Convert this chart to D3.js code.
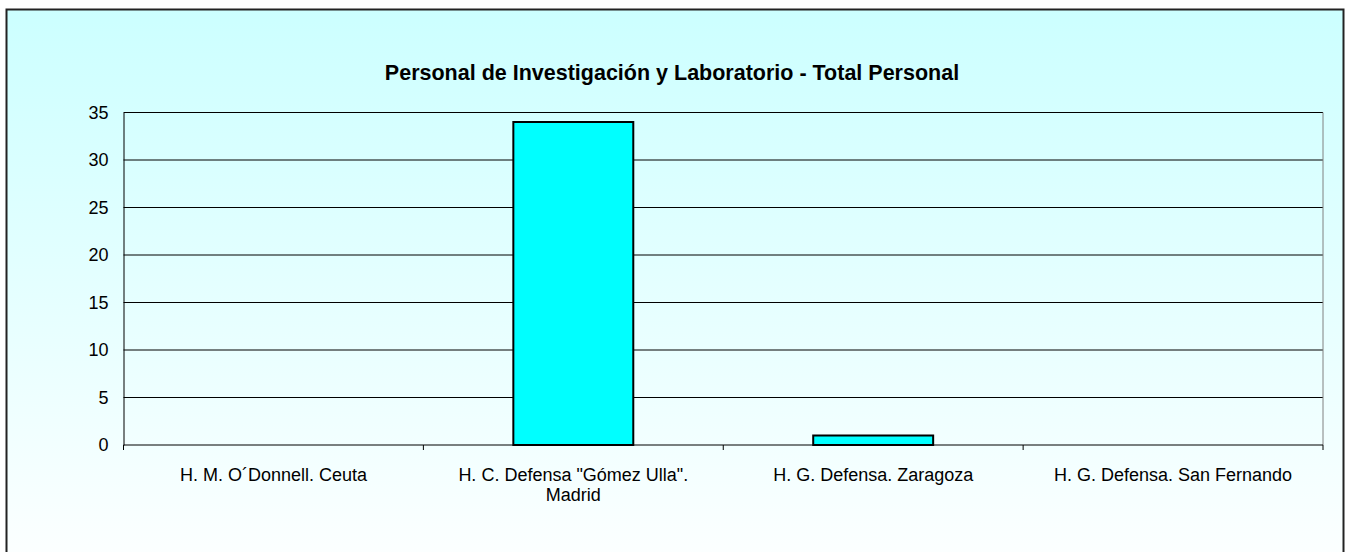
<!DOCTYPE html>
<html>
<head>
<meta charset="utf-8">
<script src="https://cdn.jsdelivr.net/npm/d3@7"></script>
<style>
  html, body { margin: 0; padding: 0; background: #fff; }
  svg { display: block; font-family: Arial, "Liberation Sans", sans-serif; }
</style>
</head>
<body>
<div id="chart"></div>
<script>
const categories = [
  ["H. M. O´Donnell. Ceuta"],
  ["H. C. Defensa \"Gómez Ulla\".", "Madrid"],
  ["H. G. Defensa. Zaragoza"],
  ["H. G. Defensa. San Fernando"]
];
const values = [0, 34, 1, 0];
const yTicks = [0, 5, 10, 15, 20, 25, 30, 35];
const title = "Personal de Investigación y Laboratorio - Total Personal";

const width = 1350, height = 552;
const margin = { top: 112.5, right: 27, bottom: 107, left: 123.5 };
const innerW = width - margin.left - margin.right;
const innerH = height - margin.top - margin.bottom;
const labelFont = 18;

const svg = d3.select("#chart").append("svg")
  .attr("width", width).attr("height", height);

// fondo degradado
const defs = svg.append("defs");
const grad = defs.append("linearGradient").attr("id", "bg").attr("x1", 0).attr("x2", 0).attr("y1", 0).attr("y2", 1);
grad.append("stop").attr("offset", "0%").attr("stop-color", "#ccffff");
grad.append("stop").attr("offset", "100%").attr("stop-color", "#fdffff");

svg.append("rect")
  .attr("x", 6.5).attr("y", 9.5)
  .attr("width", 1337).attr("height", 560)
  .attr("fill", "url(#bg)")
  .attr("stroke", "#222").attr("stroke-width", 2);

svg.append("text")
  .attr("x", 672).attr("y", 80)
  .attr("text-anchor", "middle")
  .attr("font-size", 21.5).attr("font-weight", "bold")
  .attr("fill", "#000")
  .text(title);

const x = d3.scaleBand()
  .domain(categories.map((d, i) => i))
  .range([0, innerW]);

const y = d3.scaleLinear().domain([0, 35]).range([innerH, 0]);

const g = svg.append("g").attr("transform", `translate(${margin.left},${margin.top})`);

// rejilla
g.append("g")
  .selectAll("line")
  .data(yTicks.filter((d) => d > 0))
  .join("line")
  .attr("x1", 0).attr("x2", innerW)
  .attr("y1", (d) => y(d)).attr("y2", (d) => y(d))
  .attr("stroke", "#000").attr("stroke-width", 1);

// borde derecho del área de trazado
g.append("line")
  .attr("x1", innerW).attr("x2", innerW)
  .attr("y1", 0).attr("y2", innerH)
  .attr("stroke", "#808080").attr("stroke-width", 1);

// barras
const barW = x.bandwidth() * 0.4;
g.append("g")
  .selectAll("rect")
  .data(values.map((v, i) => ({ v, i })).filter((d) => d.v > 0))
  .join("rect")
  .attr("x", (d) => x(d.i) + (x.bandwidth() - barW) / 2)
  .attr("y", (d) => y(d.v))
  .attr("width", barW)
  .attr("height", (d) => innerH - y(d.v))
  .attr("fill", "#00ffff")
  .attr("stroke", "#000")
  .attr("stroke-width", 2);

// eje Y
const yAxis = g.append("g")
  .call(d3.axisLeft(y).tickValues(yTicks).tickSize(0).tickPadding(15));
yAxis.attr("font-size", labelFont).attr("font-family", null);
yAxis.select(".domain").attr("stroke", "#000");
yAxis.selectAll("text").attr("fill", "#000");

// eje X
const xAxis = g.append("g").attr("transform", `translate(0,${innerH})`);
xAxis.append("line")
  .attr("x1", 0).attr("x2", innerW)
  .attr("stroke", "#000").attr("stroke-width", 1);
xAxis.selectAll("line.tick")
  .data(d3.range(categories.length + 1))
  .join("line")
  .attr("class", "tick")
  .attr("x1", (i) => i * x.step()).attr("x2", (i) => i * x.step())
  .attr("y1", 0).attr("y2", 5)
  .attr("stroke", "#000");

const labels = xAxis.selectAll("text.cat")
  .data(categories)
  .join("text")
  .attr("class", "cat")
  .attr("x", (d, i) => x(i) + x.bandwidth() / 2)
  .attr("y", 36)
  .attr("text-anchor", "middle")
  .attr("font-size", labelFont)
  .attr("fill", "#000");
labels.selectAll("tspan")
  .data((d) => d)
  .join("tspan")
  .attr("x", function () { return d3.select(this.parentNode).attr("x"); })
  .attr("dy", (d, j) => (j === 0 ? 0 : 20))
  .text((d) => d);
</script>
</body>
</html>
